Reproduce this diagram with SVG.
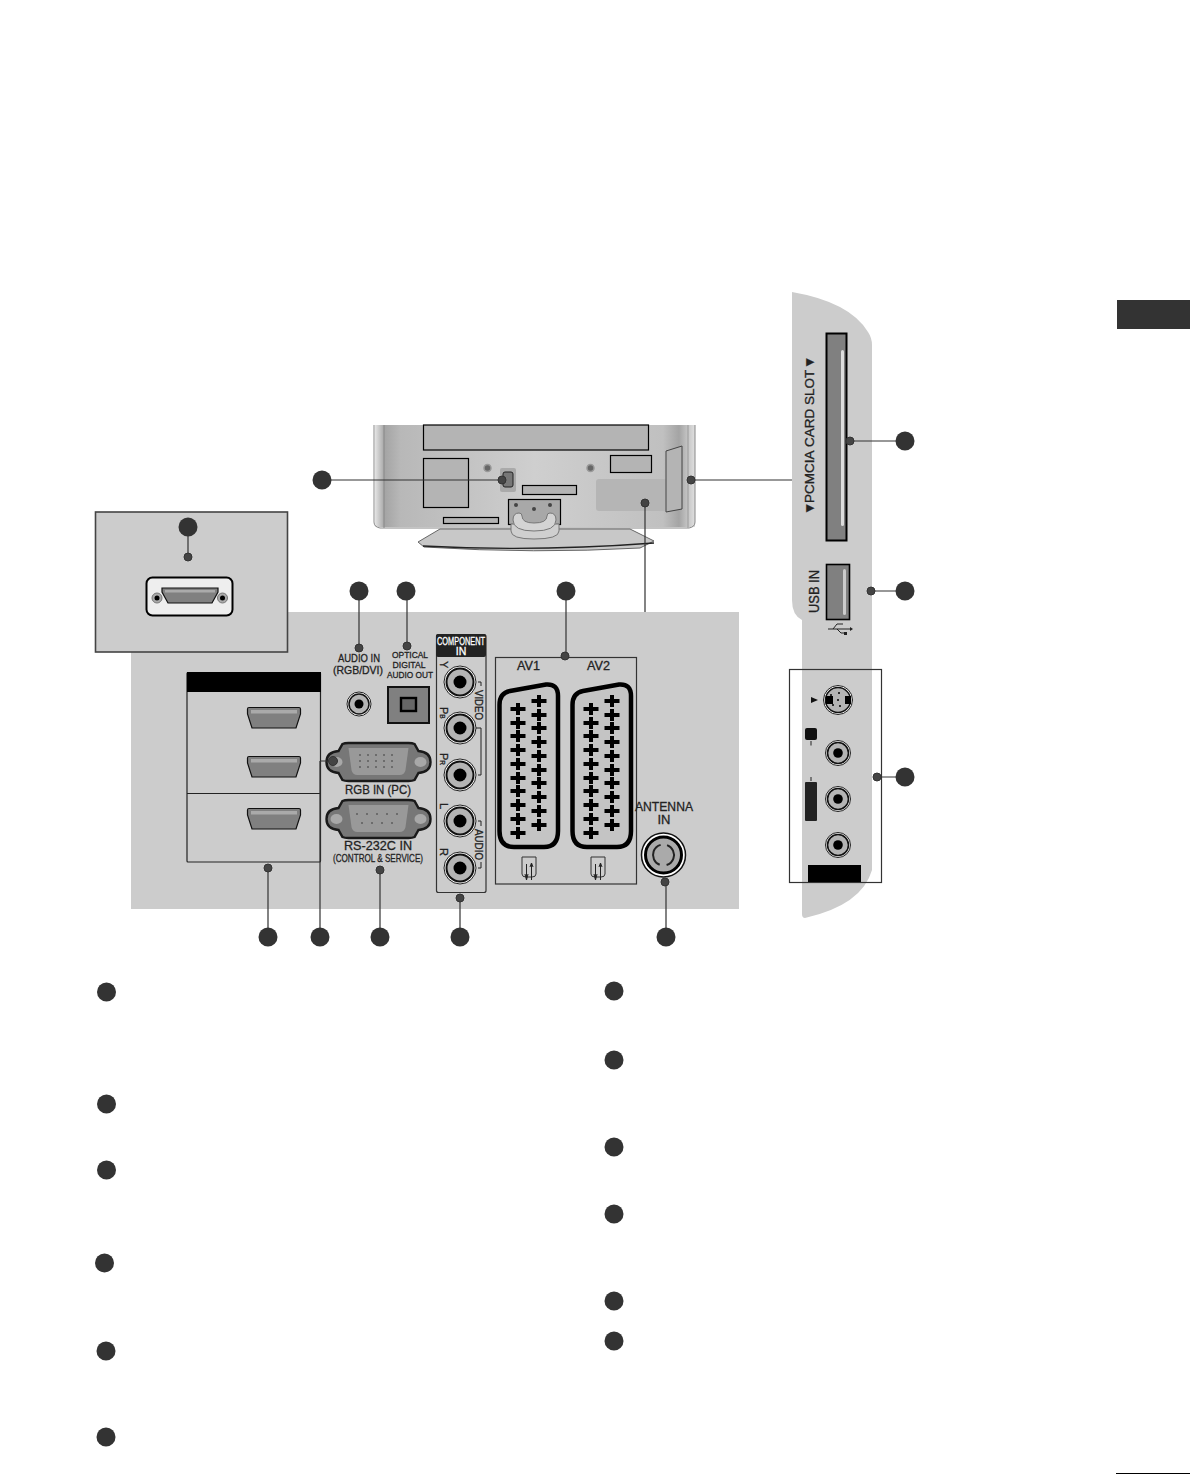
<svg xmlns="http://www.w3.org/2000/svg" width="1190" height="1474" viewBox="0 0 1190 1474">
<style>
.big{fill:#333}
.small{fill:#444;stroke:#333;stroke-width:1}
.lead{stroke:#333;stroke-width:1.2;fill:none}
text{font-family:"Liberation Sans",Arial,sans-serif;fill:#222;stroke:#222;stroke-width:.3}
.inv{fill:#fff;stroke:#fff;stroke-width:.3}
.box{fill:none;stroke:#333;stroke-width:1.2}
.hd{fill:#808080;stroke:#111;stroke-width:1.2}
.blk{fill:#000}
.tvb{fill:#b4b4b4;stroke:#000;stroke-width:1.2}
.pin{fill:#333}
</style>
<defs>
<linearGradient id="tvg" x1="0" x2="1" y1="0" y2="0">
<stop offset="0" stop-color="#e4e4e4"/><stop offset="0.03" stop-color="#a4a4a4"/><stop offset="0.08" stop-color="#b8b8b8"/><stop offset="0.5" stop-color="#cfcfcf"/><stop offset="0.9" stop-color="#c0c0c0"/><stop offset="0.95" stop-color="#a4a4a4"/><stop offset="1" stop-color="#e0e0e0"/>
</linearGradient>
<g id="rca"><circle r="16" fill="#fff" stroke="#222" stroke-width="1"/><circle r="13.5" fill="#b4b4b4" stroke="#111" stroke-width="2"/><circle r="6.5" fill="#000"/></g>
<g id="rcas"><circle r="12.5" fill="#fff" stroke="#222" stroke-width="1"/><circle r="10.5" fill="#b4b4b4" stroke="#111" stroke-width="1.6"/><circle r="4.8" fill="#000"/></g>
<g id="hdmi"><path class="hd" d="M0.5 2 Q0.5 0.5 2 0.5 H52 Q53.500 0.5 53.500 2 V7 L49 21 H5 L0.5 7 Z"/><rect x="4" y="3" width="46" height="3.500" fill="#aaa"/></g>
<path id="p" d="M-7.5-2H-2V-6H2V-2H7.500V2H2V6H-2V2H-7.500Z" fill="#000"/>
<g id="pluses">
<use href="#p" x="20" y="26"/><use href="#p" x="20" y="40"/><use href="#p" x="20" y="53"/><use href="#p" x="20" y="67"/><use href="#p" x="20" y="81"/><use href="#p" x="20" y="95"/><use href="#p" x="20" y="108"/><use href="#p" x="20" y="122"/><use href="#p" x="20" y="136"/><use href="#p" x="20" y="150"/>
<use href="#p" x="41" y="18"/><use href="#p" x="41" y="32"/><use href="#p" x="41" y="45"/><use href="#p" x="41" y="59"/><use href="#p" x="41" y="73"/><use href="#p" x="41" y="87"/><use href="#p" x="41" y="100"/><use href="#p" x="41" y="114"/><use href="#p" x="41" y="128"/><use href="#p" x="41" y="142"/>
</g>
<g id="scart">
<path d="M1.500 22 Q1.500 10 12 8 L48 1.500 Q60 0.500 60 13 V148 Q60 164 46 164 H16 Q1.500 164 1.500 148 Z" fill="#c4c4c4" stroke="#000" stroke-width="4.500"/>
<use href="#pluses"/>
</g>
<g id="sicon"><path d="M-7-11H7V6Q7 9 3 9H-3Q-7 9-7 6Z" fill="none" stroke="#333" stroke-width="1"/><path d="M-2.500-4V12M2.500-4V12M-4 6 L-2.500 12 L-1 6M1-1 L2.500-5 L4-1" fill="none" stroke="#222" stroke-width="1"/></g>
<g id="sub">
<path d="M-36-18 Q-34-19 -30-19 H30 Q34-19 36-18 L40-11 Q52-10 52 0 Q52 10 40 11 L36 18 Q34 19 30 19 H-30 Q-34 19 -36 18 L-40 11 Q-52 10 -52 0 Q-52-10 -40-11 Z" fill="#777" stroke="#1a1a1a" stroke-width="2.400"/>
<path d="M-30-14 H30 L27 8 Q26 13 21 13 H-21 Q-26 13 -27 8 Z" fill="#999"/>
<ellipse cx="-42" cy="0" rx="6" ry="5" fill="#a8a8a8"/><ellipse cx="42" cy="0" rx="6" ry="5" fill="#a8a8a8"/>
</g>
</defs>
<rect width="1190" height="1474" fill="#fff"/>
<g id="corner-tab"><rect x="1117" y="300" width="73" height="29" fill="#333"/></g>
<g id="page-rule"><rect x="1116" y="1473" width="74" height="1" fill="#000"/></g>

<g id="tv">
<rect x="375" y="425" width="320" height="102" fill="url(#tvg)"/>
<path d="M374 425V522Q374 527 380 528H689Q695 527 695 522V425" fill="none" stroke="#888" stroke-width="1"/>
<line x1="384" y1="425" x2="384" y2="528" stroke="#888" stroke-width="1"/>
<line x1="688" y1="425" x2="688" y2="528" stroke="#999" stroke-width="1"/>
<path d="M418 542 L440 529 H630 L654 541 L640 548 Q535 554 424 547 Z" fill="#c8c8c8" stroke="#666" stroke-width="1"/>
<path d="M423 546 Q535 552 654 543" fill="none" stroke="#222" stroke-width="1.400"/>
<rect class="tvb" x="423.500" y="425" width="225" height="25"/>
<rect class="tvb" x="423.500" y="458.500" width="45" height="49"/>
<rect class="tvb" x="610.500" y="455.500" width="41" height="17"/>
<rect class="tvb" x="522.500" y="485.500" width="54" height="9"/>
<rect class="tvb" x="443.500" y="517.500" width="55" height="6"/>
<rect x="596" y="479" width="76" height="32" rx="3" fill="#b5b5b5"/>
<path d="M666 451 L682 446 V509 L666 512 Z" fill="#b4b4b4" stroke="#444" stroke-width="1"/>
<rect x="500" y="468" width="16" height="24" rx="2" fill="#aaa"/><rect x="503" y="472" width="10" height="15" rx="2" fill="#777" stroke="#222" stroke-width="1"/>
<circle cx="487.500" cy="468" r="3.500" fill="#666" stroke="#999" stroke-width="1.500"/><circle cx="590.500" cy="468" r="3.500" fill="#666" stroke="#999" stroke-width="1.500"/>
<rect x="508.500" y="499.500" width="52" height="25" fill="#a8a8a8" stroke="#000" stroke-width="1.200"/>
<circle cx="516" cy="505" r="2" fill="#444"/><circle cx="534" cy="509" r="2" fill="#444"/><circle cx="550" cy="505" r="2" fill="#444"/>
<path d="M511 524 V531 Q511 539 534 539 Q559 539 559 531 V524 Z" fill="#cfcfcf" stroke="#777"/>
<path d="M513 520 Q513 513 519 513 Q522 513 522 516 Q522 523 534 523 Q547 523 547 516 Q547 513 550 513 Q556 513 556 520 Q556 531 534 531 Q513 531 513 520 Z" fill="#d4d4d4" stroke="#777"/>
</g>

<g id="back-panel"><rect x="131" y="612" width="608" height="297" fill="#ccc"/></g>

<g id="side-panel">
<path d="M792 292 Q850 302 868 332 Q872 338 872 345 V870 Q862 905 805 918 Q802 918 802 914 V620 Q792 615 792 600 Z" fill="#ccc"/>
<rect x="826.500" y="333.500" width="20" height="207" fill="#808080" stroke="#000" stroke-width="2"/>
<rect x="841" y="350" width="3" height="176" rx="1.500" fill="#ddd"/>
<text transform="translate(814 515) rotate(-90)" font-size="13.500"><tspan x="0">▼</tspan> <tspan x="12">PCMCIA</tspan> <tspan x="68">CARD</tspan> <tspan x="110">SLOT</tspan> <tspan x="146">▼</tspan></text>
<rect x="826.500" y="564.500" width="23" height="55" fill="#808080" stroke="#000" stroke-width="1.600"/>
<rect x="843" y="569" width="3" height="46" rx="1.500" fill="#ccc"/>
<text transform="translate(819 613) rotate(-90)" font-size="14" textLength="43" lengthAdjust="spacingAndGlyphs">USB IN</text>
<path d="M828 629H850M833 629L837 624H843M837 629L841 633H844" fill="none" stroke="#222" stroke-width="1"/>
<path d="M850 627 L853 629 L850 631Z M844 632h3v3h-3Z" fill="#222"/>
</g>

<g id="side-av">
<rect x="789.500" y="669.500" width="92" height="213" fill="none" stroke="#333" stroke-width="1.200"/>
<circle cx="838" cy="700" r="14.500" fill="#fff" stroke="#222" stroke-width="1"/><circle cx="838" cy="700" r="12.500" fill="#b4b4b4" stroke="#111" stroke-width="1.500"/>
<rect x="826" y="696" width="7" height="8" fill="#000"/><rect x="845" y="696" width="6" height="8" fill="#000"/>
<circle cx="838" cy="700" r="1" fill="#000"/><circle cx="839" cy="693" r="1" fill="#000"/><circle cx="831" cy="695" r="1" fill="#000"/><circle cx="833" cy="705" r="1" fill="#000"/><circle cx="840" cy="706" r="1" fill="#000"/>
<path d="M811 697 L818 700 L811 703Z" fill="#111"/>
<use href="#rcas" x="838" y="753"/><use href="#rcas" x="838" y="799"/><use href="#rcas" x="838" y="845"/>
<rect x="805" y="728" width="12" height="12" rx="2" fill="#111"/><rect x="810.500" y="741" width="1" height="4.500" fill="#222"/>
<rect x="805" y="782" width="12" height="39" rx="1" fill="#222"/><rect x="810.500" y="777" width="1" height="4" fill="#222"/>
<rect x="808" y="865" width="53" height="17" class="blk"/>
</g>

<g id="inset-panel">
<rect x="95.500" y="512" width="192" height="140" fill="#ccc" stroke="#444" stroke-width="1.600"/>
<rect x="146.500" y="577.500" width="86" height="38" rx="6" fill="#eee" stroke="#000" stroke-width="2"/>
<path d="M162 588 H218 V592 L212 603 H168 L162 592 Z" fill="#808080" stroke="#111" stroke-width="1.200"/>
<rect x="165" y="590" width="50" height="2.500" fill="#aaa"/>
<circle cx="157" cy="598" r="5" fill="#aaa" stroke="#777"/><circle cx="157" cy="598" r="2.500" fill="#000"/>
<circle cx="222.500" cy="598" r="5" fill="#aaa" stroke="#777"/><circle cx="222.500" cy="598" r="2.500" fill="#000"/>
</g>

<g id="hdmi-block">
<rect x="187" y="672.500" width="133.500" height="189.500" rx="1" fill="none" stroke="#222" stroke-width="1.200"/>
<rect x="187" y="672" width="134" height="20" class="blk"/>
<line x1="187" y1="793.500" x2="320" y2="793.500" stroke="#222" stroke-width="1.200"/>
<use href="#hdmi" x="247" y="707"/><use href="#hdmi" x="247" y="756"/><use href="#hdmi" x="247" y="808"/>
</g>

<g id="audio-in">
<text x="359" y="662" font-size="11" text-anchor="middle" textLength="42" lengthAdjust="spacingAndGlyphs">AUDIO IN</text>
<text x="358" y="674" font-size="11" text-anchor="middle" textLength="50" lengthAdjust="spacingAndGlyphs">(RGB/DVI)</text>
<circle cx="359" cy="704" r="12" fill="#fff" stroke="#222" stroke-width="1"/><circle cx="359" cy="704" r="10" fill="#b4b4b4" stroke="#111" stroke-width="1.500"/><circle cx="359" cy="704" r="4.500" fill="#000"/>
</g>

<g id="optical">
<text x="410" y="658" font-size="9.500" text-anchor="middle" textLength="36" lengthAdjust="spacingAndGlyphs">OPTICAL</text>
<text x="409" y="668" font-size="9.500" text-anchor="middle" textLength="33" lengthAdjust="spacingAndGlyphs">DIGITAL</text>
<text x="410" y="678" font-size="9.500" text-anchor="middle" textLength="46" lengthAdjust="spacingAndGlyphs">AUDIO OUT</text>
<rect x="388" y="687" width="41" height="36" fill="#808080" stroke="#111" stroke-width="2"/>
<rect x="401" y="698" width="15" height="13" fill="#666" stroke="#000" stroke-width="2.400"/>
</g>

<g id="rgb-in">
<use href="#sub" x="378.500" y="762"/>
<g class="pin"><circle cx="360" cy="755" r="0.800"/><circle cx="368" cy="755" r="0.800"/><circle cx="376" cy="755" r="0.800"/><circle cx="384" cy="755" r="0.800"/><circle cx="392" cy="755" r="0.800"/><circle cx="360" cy="761" r="0.800"/><circle cx="368" cy="761" r="0.800"/><circle cx="376" cy="761" r="0.800"/><circle cx="384" cy="761" r="0.800"/><circle cx="392" cy="761" r="0.800"/><circle cx="360" cy="767" r="0.800"/><circle cx="368" cy="767" r="0.800"/><circle cx="376" cy="767" r="0.800"/><circle cx="384" cy="767" r="0.800"/><circle cx="392" cy="767" r="0.800"/></g>
<text x="378" y="794" font-size="13" text-anchor="middle" textLength="66" lengthAdjust="spacingAndGlyphs">RGB IN (PC)</text>
</g>

<g id="rs232">
<use href="#sub" x="378.500" y="819"/>
<g class="pin"><circle cx="357" cy="814" r="0.800"/><circle cx="367" cy="814" r="0.800"/><circle cx="377" cy="814" r="0.800"/><circle cx="387" cy="814" r="0.800"/><circle cx="397" cy="814" r="0.800"/><circle cx="362" cy="823" r="0.800"/><circle cx="372" cy="823" r="0.800"/><circle cx="382" cy="823" r="0.800"/><circle cx="392" cy="823" r="0.800"/></g>
<text x="378" y="850" font-size="13" text-anchor="middle" textLength="68" lengthAdjust="spacingAndGlyphs">RS-232C  IN</text>
<text x="378" y="862" font-size="11.500" text-anchor="middle" textLength="90" lengthAdjust="spacingAndGlyphs">(CONTROL &amp; SERVICE)</text>
</g>

<g id="component">
<rect x="436.500" y="634.500" width="49.500" height="258" rx="2" fill="none" stroke="#333" stroke-width="1.200"/>
<rect x="436" y="634" width="50" height="23" rx="2" fill="#222"/>
<text class="inv" x="461" y="645" font-size="10.500" text-anchor="middle" textLength="48" lengthAdjust="spacingAndGlyphs">COMPONENT</text>
<text class="inv" x="461" y="655" font-size="10.500" text-anchor="middle">IN</text>
<use href="#rca" x="460" y="682"/><use href="#rca" x="460" y="728"/><use href="#rca" x="460" y="775"/><use href="#rca" x="460" y="821"/><use href="#rca" x="460" y="868"/>
<text transform="translate(440 661) rotate(90)" font-size="11">Y</text>
<text transform="translate(440 707) rotate(90)" font-size="11">P<tspan font-size="6.500">B</tspan></text>
<text transform="translate(440 753) rotate(90)" font-size="11">P<tspan font-size="6.500">R</tspan></text>
<text transform="translate(440 803) rotate(90)" font-size="11">L</text>
<text transform="translate(440 848) rotate(90)" font-size="11">R</text>
<text transform="translate(475 690) rotate(90)" font-size="11.500" textLength="30" lengthAdjust="spacingAndGlyphs">VIDEO</text>
<text transform="translate(475 829) rotate(90)" font-size="11.500" textLength="31" lengthAdjust="spacingAndGlyphs">AUDIO</text>
<path d="M478 682H481V686M476 728H481V775H478M478 821H481V826M481 862V868H478" fill="none" stroke="#222" stroke-width="1"/>
</g>

<g id="scart-block">
<rect x="495.500" y="657.500" width="141" height="226.500" class="box"/>
<text x="528.500" y="670" font-size="13" text-anchor="middle" textLength="23" lengthAdjust="spacingAndGlyphs">AV1</text>
<text x="598.500" y="670" font-size="13" text-anchor="middle" textLength="23" lengthAdjust="spacingAndGlyphs">AV2</text>
<use href="#scart" x="498" y="683"/>
<use href="#scart" x="571" y="683"/>
<use href="#sicon" x="529" y="868"/><use href="#sicon" x="598" y="868"/>
</g>

<g id="antenna">
<text x="664" y="811" font-size="13" text-anchor="middle" textLength="58" lengthAdjust="spacingAndGlyphs">ANTENNA</text>
<text x="664" y="824" font-size="13" text-anchor="middle">IN</text>
<circle cx="663.500" cy="855" r="22" fill="#fff" stroke="#111" stroke-width="1.500"/>
<circle cx="663.500" cy="855" r="18" fill="#aaa" stroke="#000" stroke-width="3"/>
<circle cx="663.500" cy="855" r="10.500" fill="none" stroke="#222" stroke-width="2" stroke-dasharray="26 7" transform="rotate(-70 663.500 855)"/>
</g>

<g id="connectors">
<path class="lead" d="M322 480H502M188 527V557M359 591V648M407 591V646M566 591V656M645 503V612M691 480H792M850 441H905M871 591H905M877 777H905M268 868V937M320 761V937M320 761H331M380 870V937M460 898V937M666 882V937"/>
<circle class="small" cx="502" cy="480" r="4"/><circle class="small" cx="188" cy="557" r="4"/><circle class="small" cx="359" cy="648" r="4"/><circle class="small" cx="407" cy="646" r="4"/><circle class="small" cx="565" cy="656" r="4"/><circle class="small" cx="645" cy="503" r="4"/><circle class="small" cx="691" cy="480" r="4"/><circle class="small" cx="850" cy="441" r="4"/><circle class="small" cx="871" cy="591" r="4"/><circle class="small" cx="877" cy="777" r="4"/><circle class="small" cx="268" cy="868" r="4"/><circle class="small" cx="333" cy="761" r="4.500"/><circle class="small" cx="380" cy="870" r="4"/><circle class="small" cx="460" cy="898" r="4"/><circle class="small" cx="665" cy="882" r="4"/>
</g>

<g id="callouts">
<circle class="big" cx="322" cy="480" r="9.500"/><circle class="big" cx="188" cy="527" r="9.500"/><circle class="big" cx="359" cy="591" r="9.500"/><circle class="big" cx="406" cy="591" r="9.500"/><circle class="big" cx="566" cy="591" r="9.500"/><circle class="big" cx="905" cy="441" r="9.500"/><circle class="big" cx="905" cy="591" r="9.500"/><circle class="big" cx="905" cy="777" r="9.500"/><circle class="big" cx="268" cy="937" r="9.500"/><circle class="big" cx="320" cy="937" r="9.500"/><circle class="big" cx="380" cy="937" r="9.500"/><circle class="big" cx="460" cy="937" r="9.500"/><circle class="big" cx="666" cy="937" r="9.500"/>
</g>

<g id="legend">
<circle class="big" cx="106.500" cy="992" r="9.500"/><circle class="big" cx="106.500" cy="1104" r="9.500"/><circle class="big" cx="106.500" cy="1170" r="9.500"/><circle class="big" cx="104.500" cy="1263" r="9.500"/><circle class="big" cx="106" cy="1351" r="9.500"/><circle class="big" cx="106" cy="1437" r="9.500"/>
<circle class="big" cx="614" cy="991" r="9.500"/><circle class="big" cx="614" cy="1060" r="9.500"/><circle class="big" cx="614" cy="1147" r="9.500"/><circle class="big" cx="614" cy="1214" r="9.500"/><circle class="big" cx="614" cy="1301" r="9.500"/><circle class="big" cx="614" cy="1341" r="9.500"/>
</g>
</svg>
